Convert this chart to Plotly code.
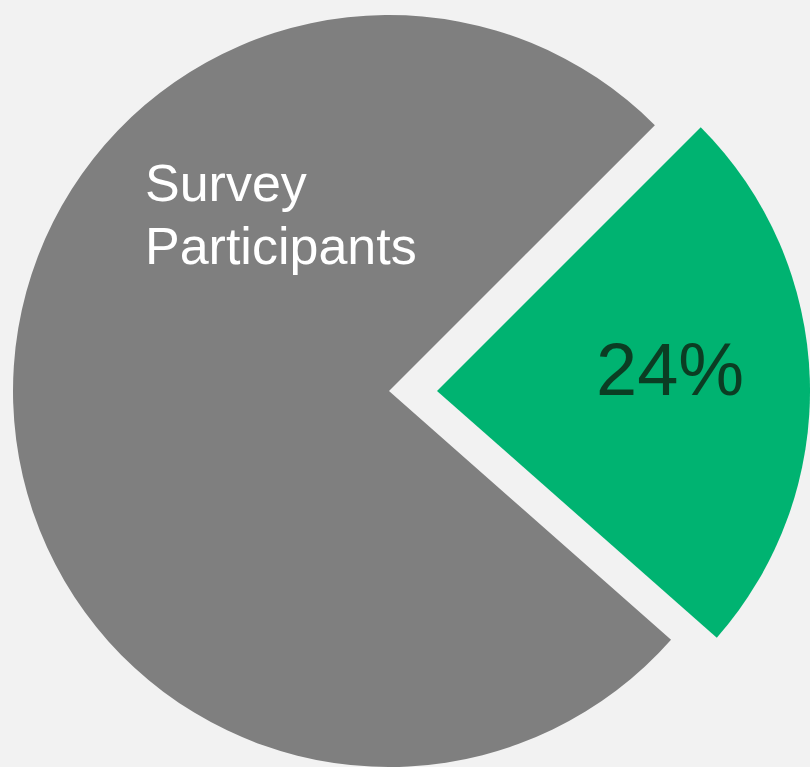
import plotly.graph_objects as go

# Data
labels = ["24%", "Survey Participants"]
values = [24, 76]
slice_colors = ["#00b371", "#7f7f7f"]
label_text = "Survey Participants"

W, H = 810, 767
bg = "#f2f2f2"

fig = go.Figure()

# Grey (base) pie: green slice transparent
fig.add_trace(go.Pie(
    labels=labels, values=values, sort=False, direction="clockwise", rotation=45,
    marker=dict(colors=["rgba(0,0,0,0)", slice_colors[1]], line=dict(width=0)),
    textinfo="none", hoverinfo="skip", showlegend=False,
    domain=dict(x=[13 / W, 765 / W], y=[0, 752 / H]),
))

# Exploded green slice: grey slice transparent, shifted right
fig.add_trace(go.Pie(
    labels=labels, values=values, sort=False, direction="clockwise", rotation=45,
    marker=dict(colors=[slice_colors[0], "rgba(0,0,0,0)"], line=dict(width=0)),
    textinfo="none", hoverinfo="skip", showlegend=False,
    domain=dict(x=[64 / W, 1.0], y=[(767 - 391 - 373) / H, (767 - 391 + 373) / H]),
))

words = label_text.split(" ")
line_centers = [183, 246]
for word, yc in zip(words, line_centers):
    fig.add_annotation(
        text=word, xref="paper", yref="paper",
        x=143 / W, y=1 - yc / H, xanchor="left", yanchor="middle", align="left",
        showarrow=False, font=dict(family="Liberation Sans, Arial", size=52, color="white"),
    )
fig.add_annotation(
    text=f"{values[0]}%", xref="paper", yref="paper",
    x=670 / W, y=1 - 369 / H, xanchor="center", yanchor="middle",
    showarrow=False, font=dict(family="Liberation Sans, Arial", size=74, color="#0b3d23"),
)

fig.update_layout(
    width=W, height=H, margin=dict(l=0, r=0, t=0, b=0),
    paper_bgcolor=bg, plot_bgcolor=bg,
)

fig.write_html("out.html")
